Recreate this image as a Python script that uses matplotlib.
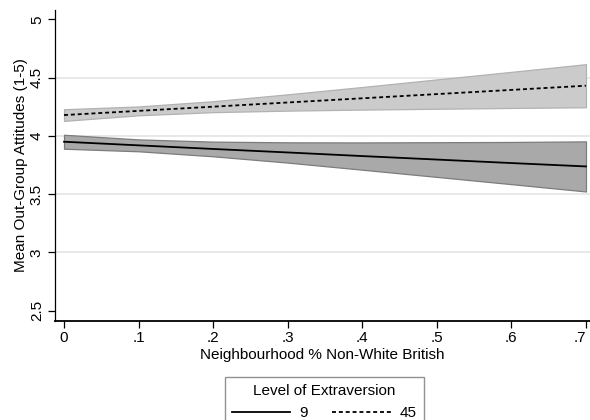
import matplotlib
matplotlib.use("Agg")
import matplotlib.pyplot as plt
from matplotlib.lines import Line2D

plt.rcParams['font.family'] = ['Liberation Sans', 'DejaVu Sans']

# Data
x_vals = [0.0, 0.1, 0.2, 0.3, 0.4, 0.5, 0.6, 0.7]

# Extraversion = 9
mean_9 = [3.949, 3.918, 3.887, 3.857, 3.826, 3.796, 3.766, 3.737]
lo_9 = [3.889, 3.867, 3.824, 3.770, 3.709, 3.647, 3.585, 3.522]
hi_9 = [4.009, 3.969, 3.950, 3.944, 3.943, 3.945, 3.947, 3.952]

# Extraversion = 45
mean_45 = [4.178, 4.214, 4.250, 4.286, 4.322, 4.358, 4.394, 4.430]
lo_45 = [4.128, 4.176, 4.203, 4.216, 4.225, 4.232, 4.239, 4.245]
hi_45 = [4.228, 4.252, 4.297, 4.356, 4.419, 4.484, 4.549, 4.615]

legend_title = "Level of Extraversion"
legend_labels = ["9", "45"]
x_ticks = [0, 0.1, 0.2, 0.3, 0.4, 0.5, 0.6, 0.7]
x_ticklabels = ["0", ".1", ".2", ".3", ".4", ".5", ".6", ".7"]
y_ticks = [2.5, 3, 3.5, 4, 4.5, 5]
y_ticklabels = ["2.5", "3", "3.5", "4", "4.5", "5"]
grid_vals = [3, 3.5, 4, 4.5]

FS = 11

fig = plt.figure(figsize=(5.9, 4.2), dpi=100)
ax = fig.add_axes([55/590, 1 - 321/420, 1 - 55/590, (321 - 10)/420])

for g in grid_vals:
    ax.axhline(g, color='#e6e6e6', lw=1.3, zorder=0)

ax.fill_between(x_vals, lo_45, hi_45, facecolor='#cbcbcb', edgecolor='#b2b2b2', lw=0.9, zorder=1)
ax.fill_between(x_vals, lo_9, hi_9, facecolor='#a9a9a9', edgecolor='#7c7c7c', lw=0.9, zorder=2)

l45, = ax.plot(x_vals, mean_45, color='black', lw=1.3, linestyle=(0, (2.2, 1.6)), zorder=3)
l9, = ax.plot(x_vals, mean_9, color='black', lw=1.3, zorder=3)

ax.set_xlim(-0.0121, 0.7054)
ax.set_ylim(2.41, 5.08)
ax.set_xticks(x_ticks)
ax.set_xticklabels(x_ticklabels, fontsize=FS)
ax.set_yticks(y_ticks)
ax.set_yticklabels(y_ticklabels, fontsize=FS, rotation=90, va='center')
ax.tick_params(axis='both', length=5, width=0.9, color='black', pad=3)
ax.tick_params(axis='x', pad=2)
ax.get_xticklabels()[-1].set_horizontalalignment('right')
ax.get_xticklabels()[-1].set_x(0.7)

for s in ['top', 'right']:
    ax.spines[s].set_visible(False)
ax.spines['left'].set_linewidth(0.9)
ax.spines['bottom'].set_linewidth(1.3)

ax.set_xlabel("Neighbourhood % Non-White British", fontsize=FS, labelpad=2)
ax.set_ylabel("Mean Out-Group Attitudes (1-5)", fontsize=FS, labelpad=1.5)

handles = [Line2D([], [], color='black', lw=1.3),
           Line2D([], [], color='black', lw=1.3, linestyle=(0, (2.2, 1.6)))]
leg = fig.legend(handles, legend_labels, title=legend_title, ncol=2,
                 loc='upper center', bbox_to_anchor=(324.5/590, 1 - 369/420),
                 fontsize=FS, title_fontsize=FS, frameon=True, fancybox=False,
                 handlelength=3.8, handletextpad=0.6, columnspacing=1.6,
                 borderpad=0.5, edgecolor='#777777')
leg.get_frame().set_linewidth(1.0)

fig.savefig("out.png", dpi=100)
